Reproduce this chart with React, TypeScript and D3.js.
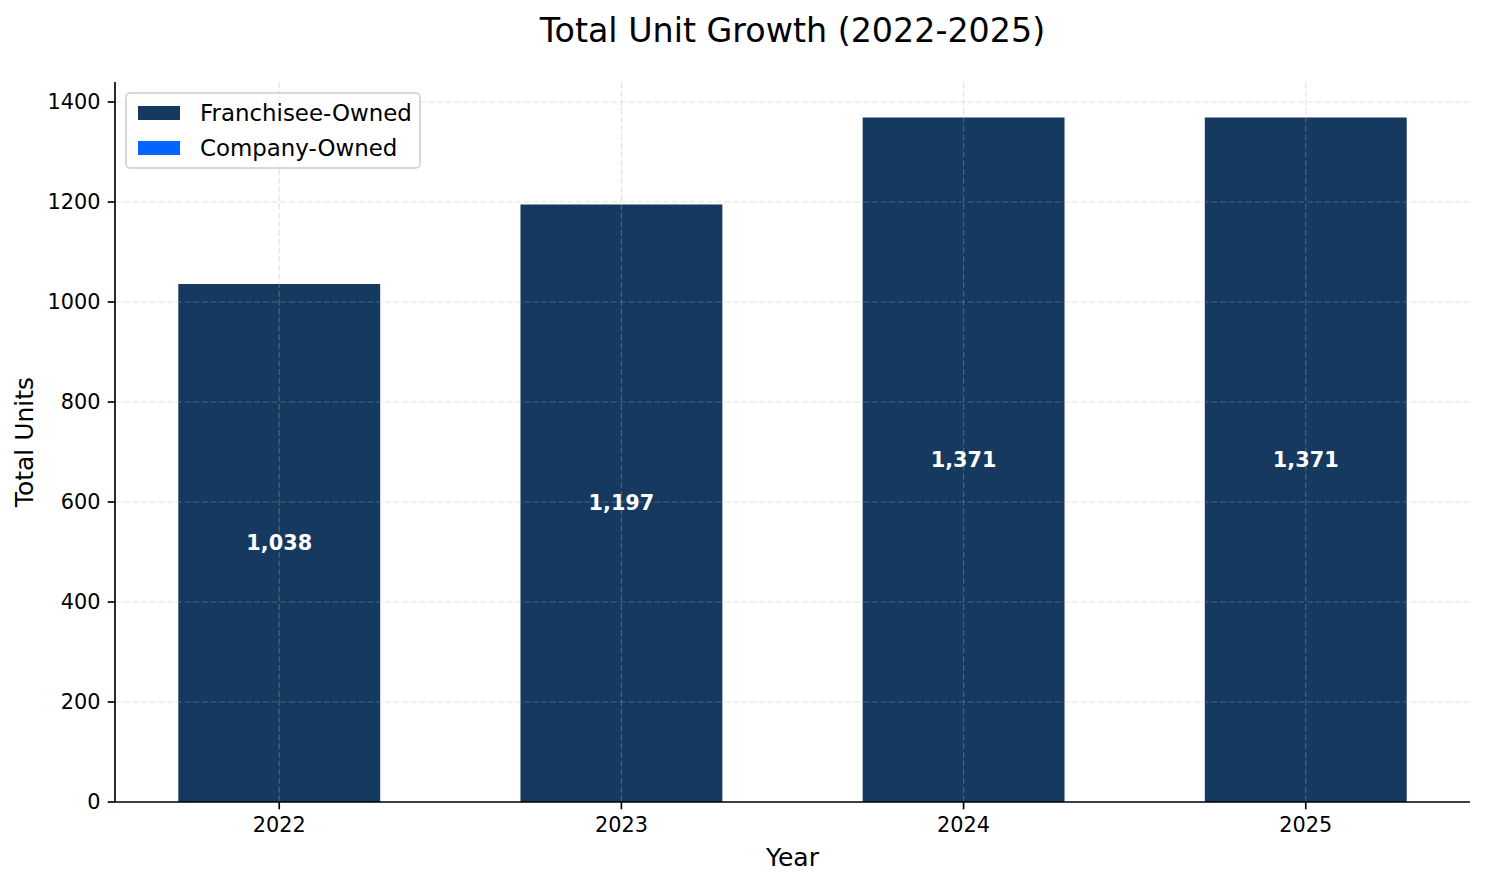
import * as d3 from 'd3'
import { useEffect } from 'react'

// chart data
const years = ['2022', '2023', '2024', '2025']
const franchiseeOwned = [1038, 1197, 1371, 1371]
const companyOwned = [0, 0, 0, 0]
const yTicks = [0, 200, 400, 600, 800, 1000, 1200, 1400]

const W = 1485
const H = 884
const margin = { left: 115, right: 15, top: 82, bottom: 82 }

const navy = '#15395f'
const blue = '#0066ff'
const font = '"DejaVu Sans", sans-serif'

export default function App() {
  useEffect(() => {
    document.body.style.margin = '0'
  }, [])

  const x = d3.scaleLinear().domain([-0.48, 3.48]).range([margin.left, W - margin.right])
  const y = d3.scaleLinear().domain([0, 1440]).range([H - margin.bottom, margin.top])
  const barW = x(0.59) - x(0)
  const x0 = margin.left
  const x1 = W - margin.right
  const yBase = y(0)

  const gridStyle = { stroke: '#b0b0b0', strokeOpacity: 0.35, strokeWidth: 1.2, strokeDasharray: '6,2.7' }

  return (
    <svg width={W} height={H} style={{ display: 'block' }} fontFamily={font}>
      <rect width={W} height={H} fill="white" />
      {/* bars */}
      {years.map((yr, i) => (
        <g key={yr}>
          <rect x={x(i) - barW / 2} y={y(franchiseeOwned[i]) + 1} width={barW}
            height={yBase - y(franchiseeOwned[i]) - 1} fill={navy} />
          <rect x={x(i) - barW / 2} y={y(franchiseeOwned[i] + companyOwned[i])} width={barW}
            height={y(franchiseeOwned[i]) - y(franchiseeOwned[i] + companyOwned[i])} fill={blue} />
        </g>
      ))}
      {/* grid */}
      {yTicks.filter(t => t > 0).map(t => (
        <line key={'gy' + t} x1={x0} x2={x1} y1={y(t)} y2={y(t)} {...gridStyle} />
      ))}
      {years.map((yr, i) => (
        <line key={'gx' + yr} x1={x(i)} x2={x(i)} y1={margin.top} y2={yBase} {...gridStyle} />
      ))}
      {/* value labels */}
      {years.map((yr, i) => (
        <text key={'lf' + yr} x={x(i)} y={y(franchiseeOwned[i] / 2)} dy="0.35em" textAnchor="middle"
          fill="white" fontWeight="bold" fontSize={20.8}>{d3.format(',')(franchiseeOwned[i])}</text>
      ))}
      {years.map((yr, i) => companyOwned[i] > 0 ? (
        <text key={'lc' + yr} x={x(i)} y={y(franchiseeOwned[i] + companyOwned[i] / 2)} dy="0.35em"
          textAnchor="middle" fill="white" fontWeight="bold" fontSize={20.8}>{d3.format(',')(companyOwned[i])}</text>
      ) : null)}
      {/* spines */}
      <line x1={x0} x2={x0} y1={margin.top} y2={yBase} stroke="black" strokeWidth={1.67} />
      <line x1={x0 - 0.8} x2={x1} y1={yBase} y2={yBase} stroke="black" strokeWidth={1.67} />
      {/* y ticks */}
      {yTicks.map(t => (
        <g key={'yt' + t}>
          <line x1={x0 - 7.3} x2={x0} y1={y(t)} y2={y(t)} stroke="black" strokeWidth={1.67} />
          <text x={x0 - 14.6} y={y(t)} dy="0.36em" textAnchor="end" fontSize={20.8} fill="black">{t}</text>
        </g>
      ))}
      {/* x ticks */}
      {years.map((yr, i) => (
        <g key={'xt' + yr}>
          <line x1={x(i)} x2={x(i)} y1={yBase} y2={yBase + 7.3} stroke="black" strokeWidth={1.67} />
          <text x={x(i)} y={yBase + 14.6} dy="0.76em" textAnchor="middle" fontSize={20.8} fill="black">{yr}</text>
        </g>
      ))}
      {/* axis labels */}
      <text x={(x0 + x1) / 2} y={866} textAnchor="middle" fontSize={25} fill="black">Year</text>
      <text transform={`translate(33, ${(margin.top + yBase) / 2}) rotate(-90)`} textAnchor="middle"
        fontSize={25} fill="black">Total Units</text>
      {/* title */}
      <text x={(x0 + x1) / 2} y={42} textAnchor="middle" fontSize={33.3} fill="black">Total Unit Growth (2022-2025)</text>
      {/* legend */}
      <g>
        <rect x={126} y={93} width={294} height={75} rx={4} fill="white" fillOpacity={0.8}
          stroke="#cccccc" strokeWidth={1.5} />
        {[{ label: 'Franchisee-Owned', color: navy }, { label: 'Company-Owned', color: blue }].map((d, k) => (
          <g key={d.label} transform={`translate(0, ${113 + k * 35})`}>
            <rect x={138} y={-7} width={42} height={14} fill={d.color} />
            <text x={200} y={0} dy="0.36em" fontSize={22.9} fill="black">{d.label}</text>
          </g>
        ))}
      </g>
    </svg>
  )
}
